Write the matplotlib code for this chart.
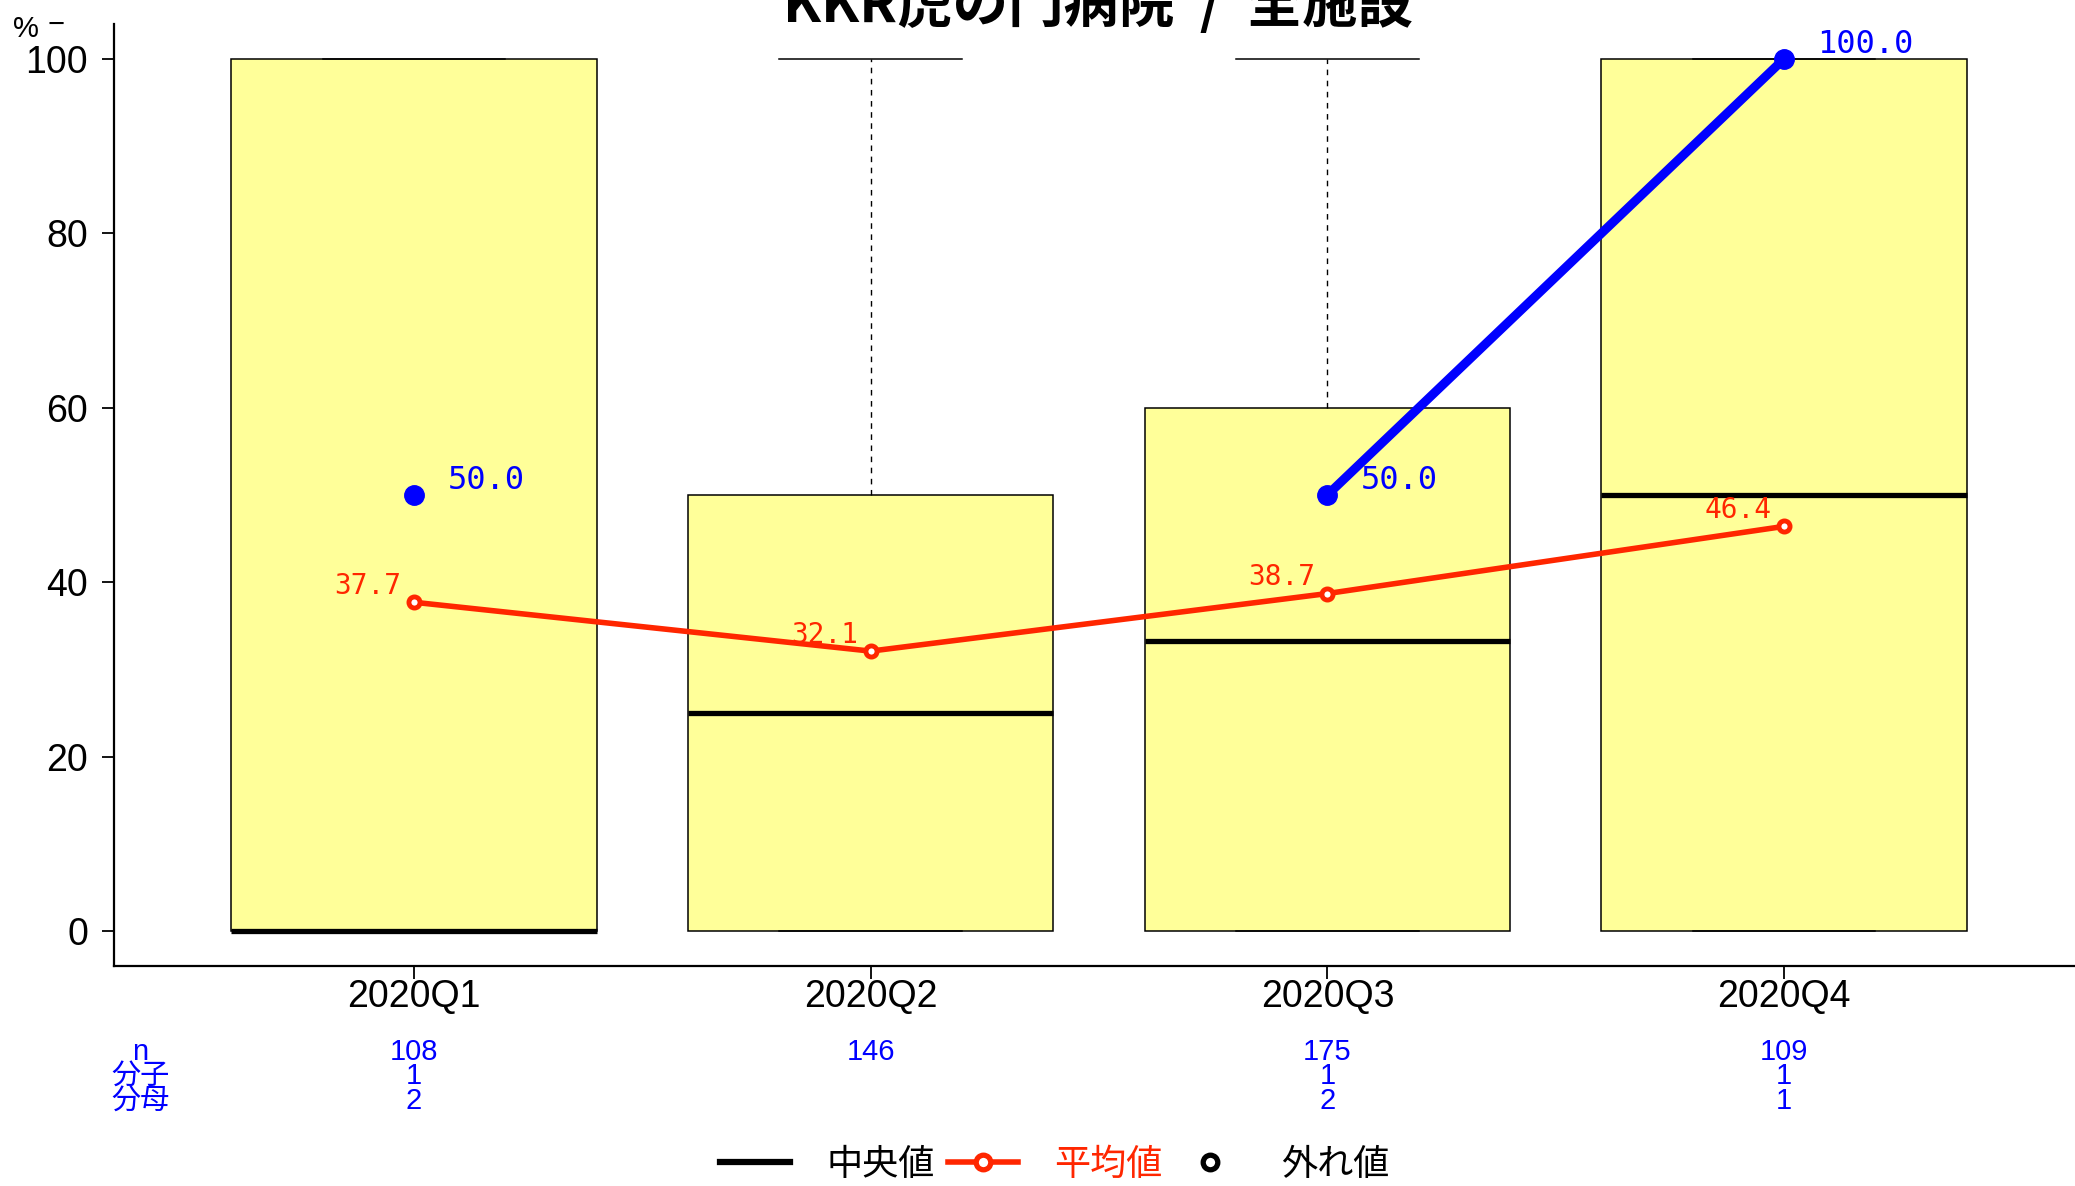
import numpy as np
import matplotlib
matplotlib.use("Agg")
import matplotlib.pyplot as plt
from matplotlib.lines import Line2D
from matplotlib.transforms import blended_transform_factory

plt.rcParams['font.family'] = ['Liberation Sans', 'Noto Sans CJK JP']

# data
quarters = ['2020Q1', '2020Q2', '2020Q3', '2020Q4']
box_q1 = [0, 0, 0, 0]
box_med = [0, 25, 33.3, 50]
box_q3 = [100, 50, 60, 100]
whis_lo = [0, 0, 0, 0]
whis_hi = [100, 100, 100, 100]
means = [37.7, 32.1, 38.7, 46.4]
rate = [50.0, np.nan, 50.0, 100.0]
n_vals = ['108', '146', '175', '109']
numer = ['1', '', '1', '1']
denom = ['2', '', '2', '1']
row_names = ['n', '分子', '分母']

RED = '#FF2600'
BLUE = '#0000FF'
YELLOW = '#FFFF99'

fig = plt.figure(figsize=(20.75, 11.86), dpi=100)
ax = fig.add_axes([0.0549, 0.1855, 0.9451, 0.7943])

x = np.arange(1, len(quarters) + 1)

stats = []
for i in range(len(quarters)):
    stats.append(dict(med=box_med[i], q1=box_q1[i], q3=box_q3[i],
                      whislo=whis_lo[i], whishi=whis_hi[i], fliers=[]))

ax.bxp(stats, positions=x, widths=0.8, capwidths=0.4, patch_artist=True,
       showfliers=False,
       boxprops=dict(facecolor=YELLOW, edgecolor='black', linewidth=1.1),
       whiskerprops=dict(color='black', linewidth=1.0, linestyle=(0, (4, 4))),
       capprops=dict(color='black', linewidth=1.1),
       medianprops=dict(color='black', linewidth=3.8, solid_capstyle='butt'))

# mean line
ax.plot(x, means, color=RED, lw=4, marker='o', ms=8, mfc='white',
        mec=RED, mew=3.5, zorder=5)
for xi, m in zip(x, means):
    ax.annotate(f'{m:.1f}', (xi, m), xytext=(-9, 6), textcoords='offset points',
                ha='right', va='baseline', color=RED, fontsize=20,
                family='DejaVu Sans Mono', zorder=6)

# rate line
ax.plot(x, rate, color=BLUE, lw=6.5, marker='o', ms=14, zorder=7,
        solid_capstyle='round')
for xi, r in zip(x, rate):
    if np.isnan(r):
        continue
    ax.annotate(f'{r:.1f}', (xi, r), xytext=(24, 4.5), textcoords='offset points',
                ha='left', va='baseline', color=BLUE, fontsize=23,
                family='DejaVu Sans Mono', zorder=8)

ax.set_xlim(0.343, 4.637)
ax.set_ylim(-4, 104)
ax.set_xticks(x)
ax.set_xticklabels(quarters)
ax.set_yticks([0, 20, 40, 60, 80, 100])
ax.tick_params(axis='y', labelsize=27, length=8.6, width=1.3, pad=10)
ax.tick_params(axis='x', labelsize=27, length=9.4, width=1.3, pad=0)
for s in ['top', 'right']:
    ax.spines[s].set_visible(False)
for s in ['left', 'bottom']:
    ax.spines[s].set_linewidth(1.6)

# title (cut at top like the original)
fig.text(1098 / 2075, 1 - 22 / 1186, 'KKR虎の門病院  /  全施設', ha='center',
         va='baseline', fontsize=40, fontweight='bold',
         family=['Noto Sans CJK JP'])

fig.text(26 / 2075, 1 - 29 / 1186, '%', ha='center', va='center', fontsize=21)
fig.text(56 / 2075, 1 - 25 / 1186, '−', ha='center', va='center', fontsize=21)

# table under the axis
trans = blended_transform_factory(ax.transData, fig.transFigure)
row_y = [1 - 1052 / 1186, 1 - 1076 / 1186, 1 - 1101 / 1186]
for name, ry in zip(row_names, row_y):
    fig.text(140 / 2075, ry, name, ha='center', va='center', color=BLUE,
             fontsize=21)
for vals, ry in zip([n_vals, numer, denom], row_y):
    for xi, v in zip(x, vals):
        ax.text(xi, ry, v, transform=trans, ha='center', va='center',
                color=BLUE, fontsize=21, clip_on=False)

handles = [
    Line2D([], [], color='black', lw=4.5),
    Line2D([], [], color=RED, lw=4, marker='o', ms=10.5, mfc='white', mec=RED, mew=3.8),
    Line2D([], [], color='none', marker='o', ms=10.5, mfc='white', mec='black', mew=3.8),
]
labels = ['中央値', '平均値', '外れ値']
fig.legend(handles, labels, loc='center', bbox_to_anchor=(1055 / 2075, 1 - 1165 / 1186),
           ncol=3, frameon=False, fontsize=26, handlelength=1.94,
           handletextpad=1.0, columnspacing=0.36, labelcolor=['black', RED, 'black'])

fig.savefig('out.png', dpi=100)
